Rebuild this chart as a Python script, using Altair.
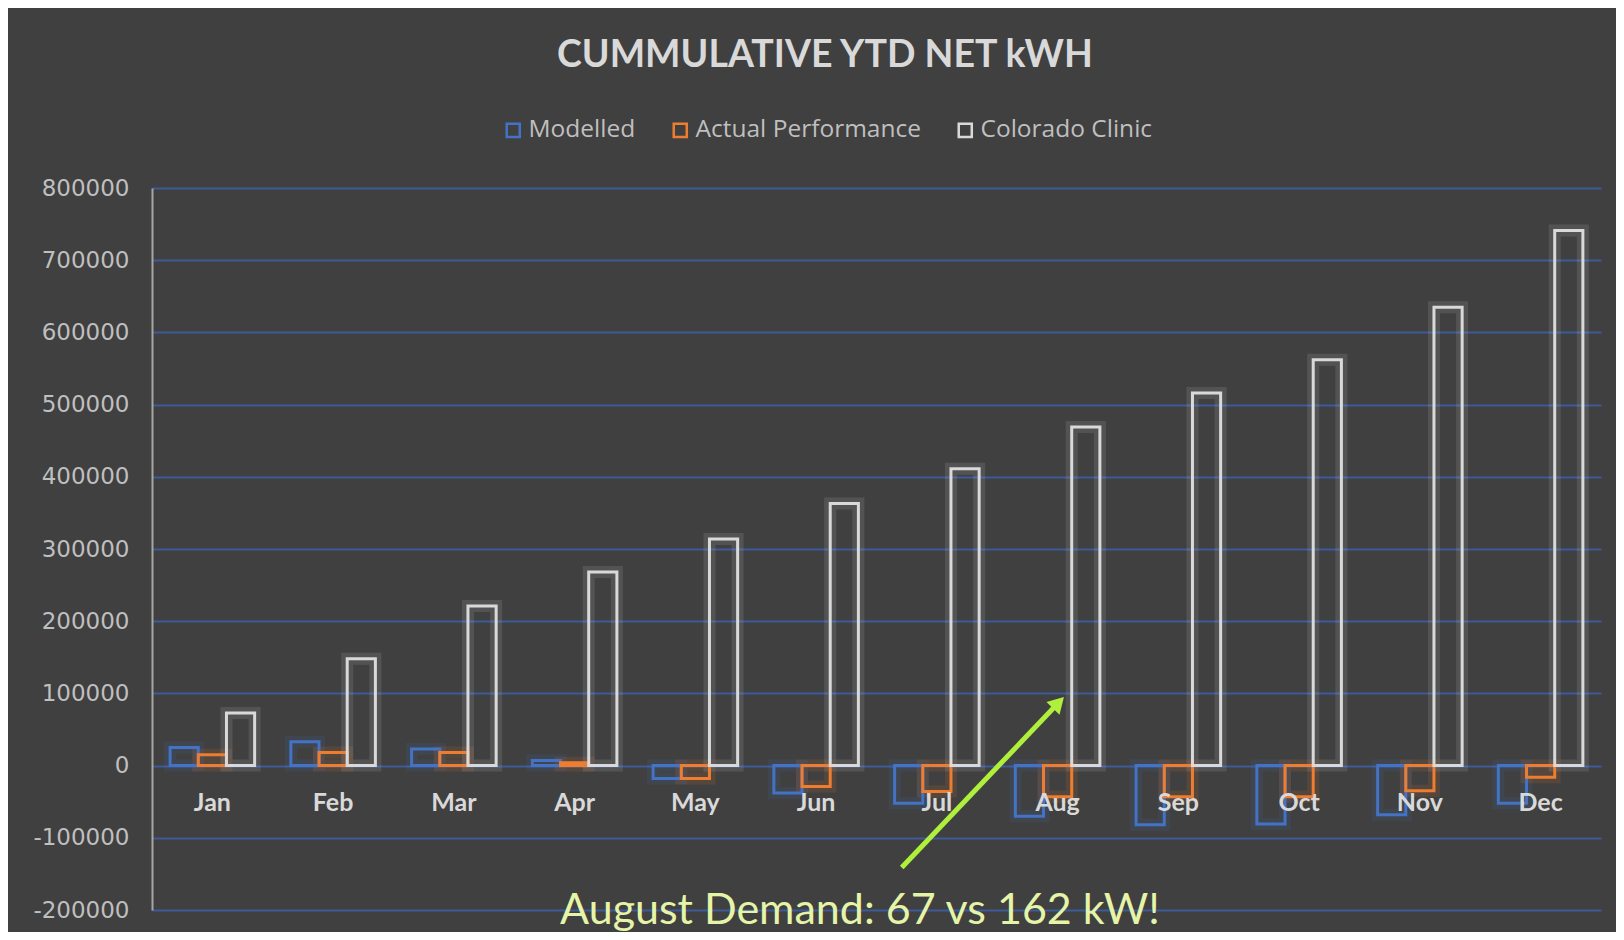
import altair as alt
import pandas as pd

months = ["Jan", "Feb", "Mar", "Apr", "May", "Jun", "Jul", "Aug", "Sep", "Oct", "Nov", "Dec"]
series = ["Modelled", "Actual Performance", "Colorado Clinic"]
modelled = [25000, 33000, 23000, 7000, -18000, -38000, -52000, -70000, -82000, -81000, -68000, -52000]
actual = [15000, 18000, 18000, 4000, -18000, -29000, -36000, -43000, -43000, -43000, -35000, -16000]
clinic = [73000, 148000, 221000, 268000, 314000, 363000, 411000, 469000, 516000, 562000, 635000, 741000]
series_colors = ["#4472c4", "#ed7d31", "#d9d9d9"]
y_ticks = list(range(-200000, 800001, 100000))

# annotation (arrow from note to August bar), in month-index units
arrow_x = [6.209, 7.507]
arrow_y = [-141100, 87100]
head_x = [7.507]
head_y = [87100]
note_x = [5.863]
note_y = [-202000]
note_text = ["August Demand: 67 vs 162 kW!"]

rows = []
for i, m in enumerate(months):
    for s, vals in zip(series, [modelled, actual, clinic]):
        rows.append({"month": m, "series": s, "value": vals[i]})
df = pd.DataFrame(rows)

BG = "#404040"
y_scale = alt.Scale(domain=[-200000, 800000], nice=False, zero=False)
x_scale = alt.Scale(domain=months, paddingInner=0.3, paddingOuter=0.15)
xo_scale = alt.Scale(domain=series, paddingInner=0, paddingOuter=0)
color_scale = alt.Scale(domain=series, range=series_colors)

x_enc = alt.X("month:N", sort=months, scale=x_scale, axis=None)
xo_enc = alt.XOffset("series:N", sort=series, scale=xo_scale)

y_axis = alt.Axis(
    values=y_ticks, title=None,
    labelExpr="datum.value < 0 ? '-' + format(-datum.value, 'd') : format(datum.value, 'd')",
    labelFont="DejaVu Sans", labelFontSize=23, labelColor="#bfbfbf",
    labelPadding=23, ticks=False, domain=True, domainColor="#a6a6a6",
    domainWidth=2, grid=True, gridColor="#3d5b98", gridWidth=2,
)
y_enc = alt.Y("value:Q", scale=y_scale, axis=y_axis)

legend = alt.Legend(
    orient="none", legendX=349, legendY=-70, direction="horizontal",
    title=None, symbolType="square", symbolFillColor="transparent",
    symbolStrokeWidth=2.5, symbolSize=170, symbolOpacity=1,
    labelFont="Open Sans", labelFontSize=24.5, labelColor="#bfbfbf",
    labelOffset=3, columnPadding=32, labelLimit=0,
)
stroke_enc = alt.Stroke("series:N", scale=color_scale, sort=series, legend=legend)

glow = alt.Chart(df).mark_bar(strokeWidth=12, strokeOpacity=0.13, fill=BG, fillOpacity=0).encode(
    x=x_enc, xOffset=xo_enc, y=y_enc, stroke=stroke_enc,
)

bars = alt.Chart(df).mark_bar(strokeWidth=3, fill=BG, fillOpacity=0).encode(
    x=x_enc, xOffset=xo_enc, y=y_enc, stroke=stroke_enc,
)

labels = alt.Chart(pd.DataFrame({"month": months})).mark_text(
    font="Lato", fontWeight="bold", fontSize=25, color="#d9d9d9", dy=37, baseline="middle"
).encode(
    x=x_enc,
    y=alt.datum(0, scale=y_scale, axis=y_axis),
    text="month:N",
)

xq = alt.Scale(domain=[0, 12], nice=False, zero=False)

arrow = alt.Chart(pd.DataFrame({"x": arrow_x, "value": arrow_y})).mark_line(
    color="#aef03c", strokeWidth=5
).encode(
    x=alt.X("x:Q", scale=xq, axis=None),
    y=y_enc,
)

head = alt.Chart(pd.DataFrame({"x": head_x, "value": head_y})).mark_point(
    shape="triangle-up", filled=True, color="#aef03c", size=330, angle=44, opacity=1
).encode(
    x=alt.X("x:Q", scale=xq, axis=None),
    y=y_enc,
)

note = alt.Chart(pd.DataFrame({"x": note_x, "value": note_y, "t": note_text})).mark_text(
    font="Lato", fontSize=43, color="#e6f4a8", baseline="middle", align="center"
).encode(
    x=alt.X("x:Q", scale=xq, axis=None),
    y=y_enc,
    text="t:N",
)

base = alt.layer(glow, bars, labels)
annot = alt.layer(arrow, head, note)

chart = alt.layer(base, annot).resolve_scale(x="independent").properties(
    width=1449,
    height=722,
    title=alt.Title(
        "CUMMULATIVE YTD NET kWH", font="Lato", fontSize=37.5, fontWeight="bold",
        color="#d9d9d9", anchor="middle", frame="bounds", offset=44, dx=8,
    ),
    autosize=alt.AutoSizeParams(type="none"),
    padding={"left": 144, "top": 180, "right": 15, "bottom": 22},
    background=BG,
).configure_view(stroke=None)

chart.save("out.html", embed_options={"renderer": "svg", "actions": False})
